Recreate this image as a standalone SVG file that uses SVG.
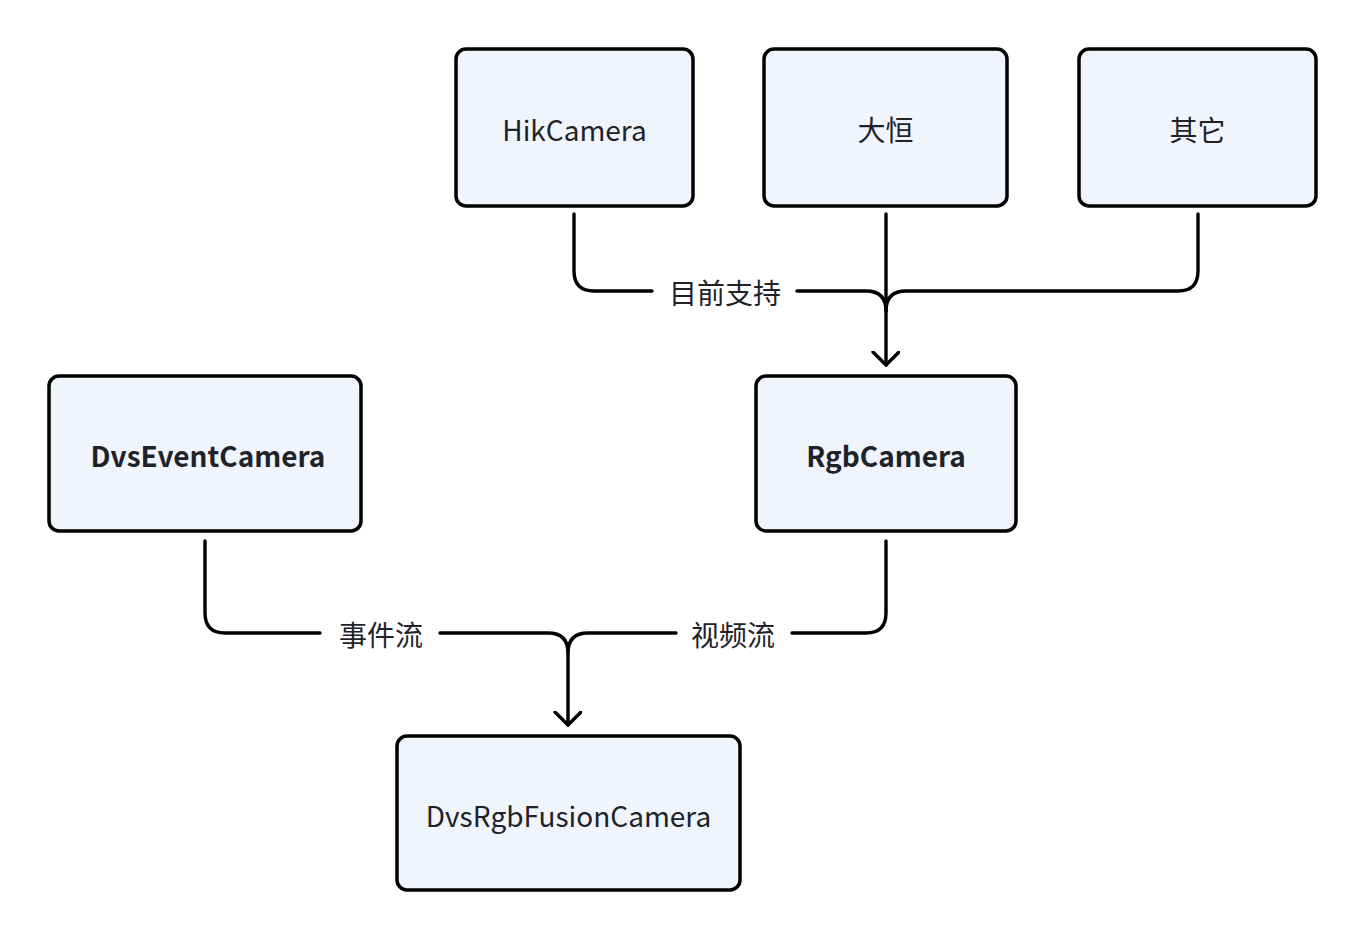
<svg xmlns="http://www.w3.org/2000/svg" width="1366" height="942" viewBox="0 0 1366 942">
<defs>
<style>
.box{fill:#eff4fd;stroke:#000;stroke-width:3.5}
.t{font-family:"Noto Sans CJK SC","Noto Sans",sans-serif;font-size:28px;fill:#1f2329;text-anchor:middle;dominant-baseline:central}
.b{font-weight:bold}
.c{fill:none;stroke:#000;stroke-width:3.4;stroke-linecap:round;stroke-linejoin:round}
</style>
<marker id="ah" markerWidth="30" markerHeight="30" refX="14" refY="14" orient="auto" markerUnits="userSpaceOnUse">
<path d="M1,1 L14,14 L1,27" fill="none" stroke="#000" stroke-width="3.4" stroke-linecap="round" stroke-linejoin="round"/>
</marker>
</defs>
<rect width="1366" height="942" fill="#fff"/>
<g id="connectors">
<path class="c" d="M574,214 V271 Q574,291 594,291 H652"/>
<path class="c" d="M797,291 H866 Q886,291 886,311"/>
<path class="c" d="M1198,214 V271 Q1198,291 1178,291 H906 Q886,291 886,311"/>
<path class="c" d="M886,214 V365" marker-end="url(#ah)"/>
<path class="c" d="M205,541 V613 Q205,633 225,633 H320"/>
<path class="c" d="M440,633 H548 Q568,633 568,653"/>
<path class="c" d="M886,541 V613 Q886,633 866,633 H792"/>
<path class="c" d="M676,633 H588 Q568,633 568,653 V725" marker-end="url(#ah)"/>
<text class="t" x="725" y="292">目前支持</text>
<text class="t" x="381" y="634">事件流</text>
<text class="t" x="733" y="634">视频流</text>
</g>
<g id="hik"><rect class="box" x="456" y="49" width="237" height="157" rx="10"/><text class="t" x="574.5" y="129">HikCamera</text></g>
<g id="daheng"><rect class="box" x="764" y="49" width="243" height="157" rx="10"/><text class="t" x="885.5" y="129">大恒</text></g>
<g id="other"><rect class="box" x="1079" y="49" width="237" height="157" rx="10"/><text class="t" x="1197.5" y="129">其它</text></g>
<g id="dvs"><rect class="box" x="49" y="376" width="312" height="155" rx="10"/><text class="t b" x="208" y="455">DvsEventCamera</text></g>
<g id="rgb"><rect class="box" x="756" y="376" width="260" height="155" rx="10"/><text class="t b" x="886" y="455">RgbCamera</text></g>
<g id="fusion"><rect class="box" x="397" y="736" width="343" height="154" rx="10"/><text class="t" x="568.5" y="815">DvsRgbFusionCamera</text></g>
</svg>
